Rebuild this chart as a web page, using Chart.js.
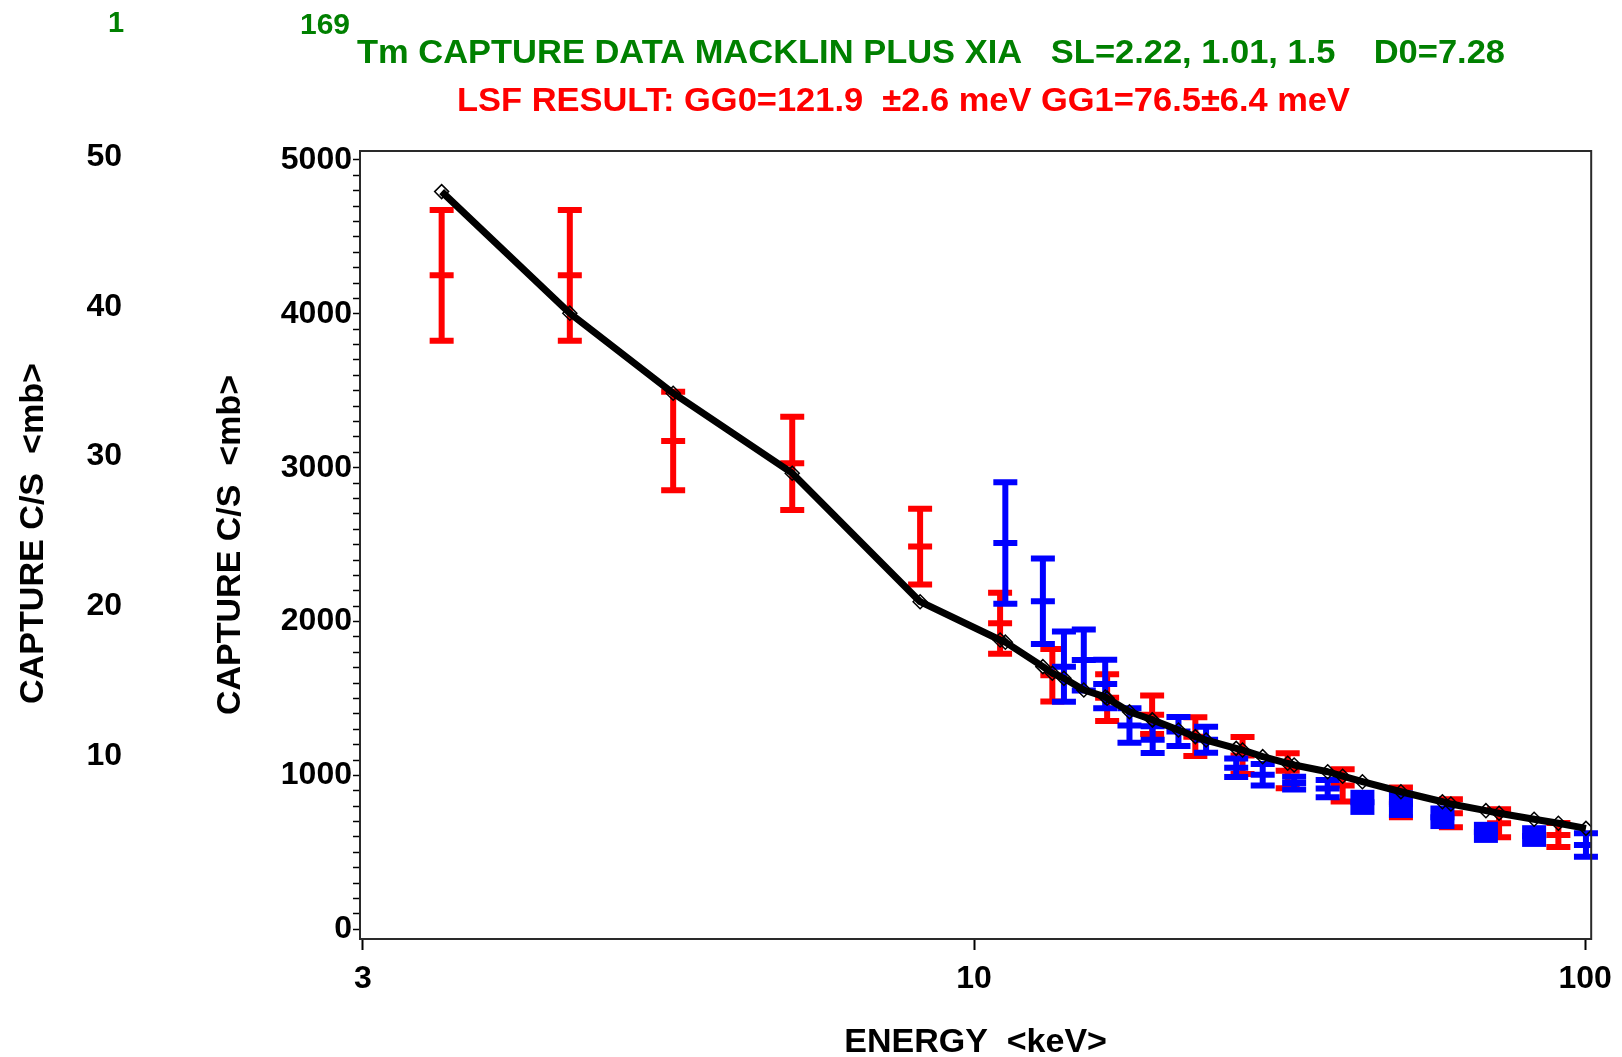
<!DOCTYPE html>
<html>
<head>
<meta charset="utf-8">
<title>169Tm capture data</title>
<script src="https://cdn.jsdelivr.net/npm/chart.js@4.4.1/dist/chart.umd.min.js"></script>
<style>
  html, body { margin: 0; padding: 0; background: #fff; }
  #wrap { width: 1622px; height: 1057px; position: relative; }
</style>
</head>
<body>
<div id="wrap"><canvas id="chart" width="1622" height="1057"></canvas></div>
<script>
const FONT = "'Liberation Sans', Arial, Helvetica, sans-serif"

////// Macklin data (red)
const macklinE   = [1.345, 2.18, 3.218, 5.04, 8.16, 11.03, 13.43, 16.51, 19.56, 23.02, 27.5, 32.6, 40.1, 49.95, 60.3, 72.3, 90.4]
const macklinCS  = [4250, 4250, 3174, 3028, 2487, 1989, 1651, 1505, 1395, 1252, 1130, 1030, 935, 825, 754, 689, 613]
const macklinErr = [425, 425, 320, 303, 246, 198, 170, 152, 125, 126, 120, 114, 105, 97, 91, 91, 78]

////// Xia data (blue)
const xiaE   = [11.25, 12.96, 14.03, 15.12, 16.39, 17.96, 19.6, 21.6, 23.97, 26.85, 29.67, 33.4, 37.9, 43.2, 49.95, 58.4, 68.8, 82.5, 100.3]
const xiaCS  = [2510, 2132, 1707, 1750, 1594, 1325, 1232, 1285, 1232, 1050, 1005, 950, 915, 825, 813, 728, 630, 606, 548]
const xiaErr = [395, 278, 228, 198, 157, 112, 87, 94, 85, 60, 70, 41, 56, 62, 70, 57, 49, 51, 76]

////// LSF fit curve (black, diamonds)
const fitE  = [1.345, 2.18, 3.218, 5.04, 8.16, 11.03, 11.25, 12.96, 13.43, 14.03, 15.12, 16.39, 16.51, 17.96, 19.56, 19.6, 21.6, 23.02, 23.97, 26.85, 27.5, 29.67, 32.6, 33.4, 37.9, 40.1, 43.2, 49.95, 58.4, 60.3, 68.8, 72.3, 82.5, 90.4, 100.3]
const fitCS = [4794, 4004, 3484, 2964, 2129, 1880, 1866, 1707, 1664, 1631, 1555, 1510, 1502, 1414, 1362, 1360, 1295, 1252, 1230, 1176, 1165, 1122, 1079, 1068, 1024, 995, 959, 894, 829, 814, 771, 754, 715, 689, 656]

////// axes
const xTickValues = [1, 10, 100]
const xTickLabels = ['3', '10', '100']
const yTickLabels = [0, 1000, 2000, 3000, 4000, 5000]
const yOuterTicks = [10, 20, 30, 40, 50]

const yMinorTicks = []
for (let v = 0; v <= 5000; v += 100) yMinorTicks.push(v)

// which Xia marks come out as solid blocks in the plot
const xiaSolid = xiaE.map(e => [43.2, 49.95, 58.4, 68.8, 82.5].includes(e))

const toPoints = (xs, ys) => xs.map((x, i) => ({ x: x, y: ys[i] }))

const GREEN = '#008000'
const RED = '#ff0000'
const BLUE = '#0000ff'

// draw text stretched/squeezed to a given width
function fitText(ctx, text, x, y, w, size, color, rot) {
  ctx.save()
  ctx.font = `bold ${size}px ${FONT}`
  ctx.fillStyle = color
  ctx.textBaseline = 'alphabetic'
  ctx.translate(x, y)
  if (rot) ctx.rotate(rot)
  const m = ctx.measureText(text).width
  if (w) ctx.scale(w / m, 1)
  ctx.textAlign = 'left'
  ctx.fillText(text, 0, 0)
  ctx.restore()
}

const errorBars = {
  id: 'errorBars',
  afterDatasetDraw(chart, args) {
    const ds = chart.data.datasets[args.index]
    if (!ds.errors) return
    const { ctx, scales: { x, y } } = chart
    const lw = 6, half = 12
    ctx.save()
    ctx.strokeStyle = ds.borderColor
    ctx.fillStyle = ds.borderColor
    ctx.lineWidth = lw
    ctx.lineCap = 'butt'
    ds.data.forEach((p, i) => {
      const px = x.getPixelForValue(p.x)
      const top = y.getPixelForValue(p.y + ds.errors[i])
      const bot = y.getPixelForValue(p.y - ds.errors[i])
      if (ds.solid && ds.solid[i]) {
        ctx.fillRect(px - half, top - lw / 2, half * 2, bot - top + lw)
        return
      }
      ctx.beginPath()
      ctx.moveTo(px, top); ctx.lineTo(px, bot)
      ctx.moveTo(px - half, top); ctx.lineTo(px + half, top)
      ctx.moveTo(px - half, bot); ctx.lineTo(px + half, bot)
      ctx.stroke()
    })
    ctx.restore()
  }
}

const frameAndTexts = {
  id: 'frameAndTexts',
  afterDatasetsDraw(chart) {
    const { ctx, chartArea: a } = chart
    ctx.save()
    ctx.strokeStyle = '#2a2a2a'
    ctx.lineWidth = 2
    ctx.strokeRect(a.left, a.top, a.right - a.left, a.bottom - a.top)
    ctx.restore()
  },
  afterDraw(chart) {
    const ctx = chart.ctx
    fitText(ctx, '1', 108, 32, 0, 29, GREEN)
    fitText(ctx, '169', 300, 34, 0, 30, GREEN)
    fitText(ctx, 'Tm CAPTURE DATA MACKLIN PLUS XIA   SL=2.22, 1.01, 1.5    D0=7.28', 357, 63, 1148, 34, GREEN)
    fitText(ctx, 'LSF RESULT: GG0=121.9  \u00b12.6 meV GG1=76.5\u00b16.4 meV', 457, 111, 893, 33, RED)
    // outer axis title
    fitText(ctx, 'CAPTURE C/S  <mb>', 43, 704, 341, 34, '#000', -Math.PI / 2)
  }
}

Chart.defaults.font.family = FONT
Chart.defaults.font.weight = 'bold'
Chart.defaults.color = '#000'

new Chart(document.getElementById('chart'), {
  type: 'scatter',
  data: {
    datasets: [
      {
        label: 'LSF fit',
        data: toPoints(fitE, fitCS),
        showLine: true,
        borderColor: '#000',
        borderWidth: 7,
        borderJoinStyle: 'round',
        tension: 0,
        pointStyle: 'rectRot',
        pointRadius: 7,
        pointBorderWidth: 1.5,
        pointBorderColor: '#000',
        pointBackgroundColor: 'rgba(255,255,255,0)',
        order: 0
      },
      {
        label: 'Xia',
        data: toPoints(xiaE, xiaCS),
        errors: xiaErr,
        solid: xiaSolid,
        borderColor: BLUE,
        backgroundColor: BLUE,
        pointStyle: 'line',
        pointRadius: 12,
        borderWidth: 6,
        order: 1
      },
      {
        label: 'Macklin',
        data: toPoints(macklinE, macklinCS),
        errors: macklinErr,
        borderColor: RED,
        backgroundColor: RED,
        pointStyle: 'line',
        pointRadius: 12,
        borderWidth: 6,
        order: 2
      }
    ]
  },
  options: {
    responsive: false,
    animation: false,
    devicePixelRatio: 1,
    layout: { padding: { top: 151, right: 30, bottom: 0, left: 0 } },
    plugins: { legend: { display: false }, tooltip: { enabled: false }, title: { display: false } },
    scales: {
      x: {
        type: 'logarithmic',
        position: 'bottom',
        min: 0.9888,
        max: 102.3,
        afterBuildTicks: (s) => { s.ticks = xTickValues.map(v => ({ value: v })) },
        afterFit: (s) => { s.height = 118 },
        ticks: {
          autoSkip: false, maxRotation: 0, minRotation: 0, padding: 10,
          font: { size: 32, weight: 'bold' }, color: '#000',
          callback: (v) => { const i = xTickValues.indexOf(v); return i >= 0 ? xTickLabels[i] : '' }
        },
        grid: { drawOnChartArea: false, drawTicks: true, tickLength: 11, tickColor: '#000', tickWidth: 2 },
        border: { display: false },
        title: {
          display: true, text: 'ENERGY  <keV>', color: '#000',
          font: { size: 34, weight: 'bold', lineHeight: 1 }, padding: { top: 0, bottom: -3 }
        }
      },
      y: {
        type: 'linear',
        position: 'left',
        weight: 0,
        min: -63,
        max: 5058,
        afterBuildTicks: (s) => { s.ticks = yMinorTicks.map(v => ({ value: v })) },
        afterFit: (s) => { s.width = 170 },
        ticks: {
          autoSkip: false, padding: 1,
          font: { size: 32, weight: 'bold' }, color: '#000',
          callback: (v) => yTickLabels.includes(v) ? String(v) : ''
        },
        grid: { drawOnChartArea: false, drawTicks: true, tickLength: 7, tickColor: '#000', tickWidth: 1.5 },
        border: { display: false },
        title: {
          display: true, text: 'CAPTURE C/S  <mb>', color: '#000',
          font: { size: 34, weight: 'bold', lineHeight: 1 }, padding: { top: 24, bottom: 0 }
        }
      },
      y2: {
        type: 'linear',
        position: 'left',
        weight: 1,
        min: -2.24,
        max: 50.4,
        afterBuildTicks: (s) => { s.ticks = yOuterTicks.map(v => ({ value: v })) },
        afterFit: (s) => { s.width = 190 },
        ticks: { padding: 68, font: { size: 32, weight: 'bold' }, color: '#000' },
        grid: { display: false, drawTicks: false },
        border: { display: false }
      }
    }
  },
  plugins: [errorBars, frameAndTexts]
})
</script>
</body>
</html>
